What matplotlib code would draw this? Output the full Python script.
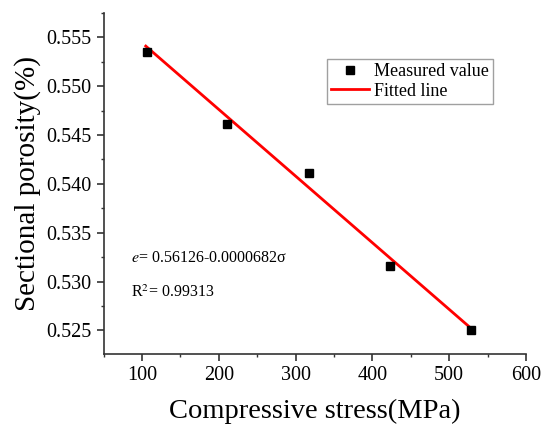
import matplotlib.pyplot as plt
from matplotlib.ticker import MultipleLocator, FormatStrFormatter

# measured data
stress = [106, 211, 317, 423, 528]
porosity = [0.5535, 0.5461, 0.5411, 0.5316, 0.5251]

# fitted line e = a + b*sigma
fit_a = 0.56126
fit_b = -0.0000682
fit_x = [105, 528]
fit_y = [fit_a + fit_b * x for x in fit_x]

plt.rcParams['font.family'] = ['Liberation Serif', 'DejaVu Serif']
plt.rcParams['mathtext.fontset'] = 'stix'

fig = plt.figure(figsize=(5.42, 4.28), dpi=100)
ax = fig.add_axes([0.191, 0.173, 0.7795, 0.797])

ax.plot(stress, porosity, 's', color='black', markersize=6, label='Measured value', zorder=3)
ax.plot(fit_x, fit_y, '-', color='red', linewidth=2, label='Fitted line')

ax.set_xlim(50, 600)
ax.set_ylim(0.5226, 0.5575)
ax.xaxis.set_major_locator(MultipleLocator(100))
ax.xaxis.set_minor_locator(MultipleLocator(50))
ax.yaxis.set_major_locator(MultipleLocator(0.005))
ax.yaxis.set_minor_locator(MultipleLocator(0.0025))
ax.yaxis.set_major_formatter(FormatStrFormatter('%.3f'))

for side in ['top', 'right']:
    ax.spines[side].set_visible(False)
for side in ['left', 'bottom']:
    ax.spines[side].set_color('#333333')
    ax.spines[side].set_linewidth(1.2)

ax.tick_params(which='major', direction='out', length=5, width=1.2, pad=3.5,
               labelsize=14.5, colors='#333333', labelcolor='black')
ax.tick_params(which='minor', direction='out', length=2.5, width=1.0, colors='#333333')

ax.set_xlabel('Compressive stress(MPa)', fontsize=20.5, labelpad=10)
ax.set_ylabel('Sectional porosity(%)', fontsize=21, labelpad=4)

ax.text(86, 0.5320, r'$e$= 0.56126-0.0000682σ', fontsize=11.5, va='baseline')
ax.text(86, 0.5284, r'R$^2$= 0.99313', fontsize=11.5, va='baseline')

leg = ax.legend(loc='upper left', bbox_to_anchor=(0.528, 0.866), fontsize=13, frameon=True,
                fancybox=False, borderpad=0.25, handlelength=2.1, handletextpad=0.25,
                labelspacing=0.15, borderaxespad=0)
leg.get_frame().set_edgecolor('#888888')
leg.get_frame().set_linewidth(1.0)

fig.savefig('out.png', dpi=100)
